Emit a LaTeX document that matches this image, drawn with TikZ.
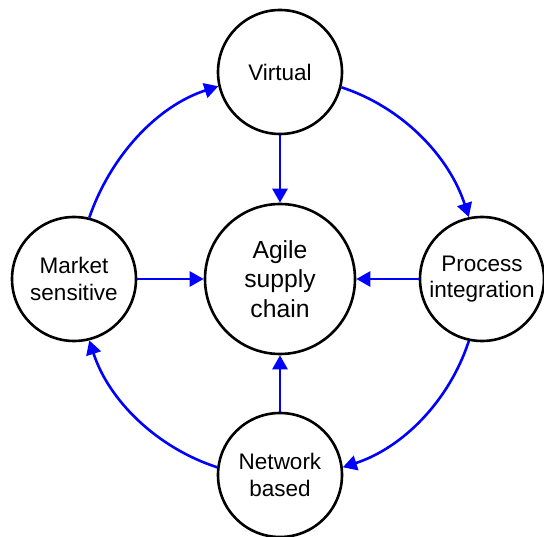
\documentclass[tikz,border=0pt]{standalone}
\usepackage{fontspec}
\setmainfont{Liberation Sans}
\usetikzlibrary{arrows.meta}
\tikzset{
  trait/.style = {circle,draw,line width=2.6pt,minimum size=124pt,inner sep=0pt,align=center,font=\fontsize{22.5}{26.3}\selectfont},
  hub/.style = {trait,minimum size=150pt,font=\fontsize{24.7}{29.8}\selectfont},
  link/.style = {draw=blue,line width=2.6pt,-{Triangle[length=14pt,width=15pt]}}
}
\begin{document}
\begin{tikzpicture}[x=1pt,y=1pt]
	\useasboundingbox (0,0) rectangle (544,536);

	\node[hub] (agile) at (280,257) {Agile\\supply\\chain};
	\node[trait] (virtual) at (280,464) {Virtual}; %top
	\node[trait] (market) at (74,257) {Market\\sensitive}; %left
	\node[trait] (process) at (482,257) {Process\\integration}; %right
	\node[trait] (network) at (280,61) {Network\\based}; %bottom

	%spokes into the hub
	\draw[link] (virtual) -- (agile);
	\draw[link] (market) -- (agile);
	\draw[link] (process) -- (agile);
	\draw[link] (network) -- (agile);

	%outer ring, clockwise: market-->virtual
	\draw[link] (market.76) to[out=71, in=198, looseness=0.9] (virtual.193);
	%virtual-->process
	\draw[link] (virtual.346) to[out=342, in=108, looseness=0.9] (process.102);
	%process-->network
	\draw[link] (process.258) to[out=252, in=18, looseness=0.9] (network.7);
	%network-->market
	\draw[link] (network.173) to[out=162, in=288, looseness=0.9] (market.284);
\end{tikzpicture}
\end{document}
